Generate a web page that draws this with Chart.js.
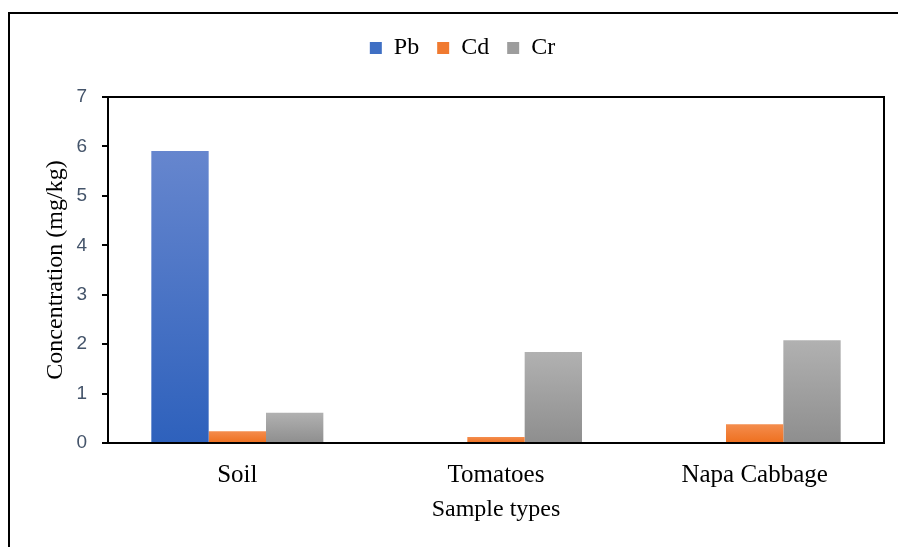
<!DOCTYPE html>
<html>
<head>
<meta charset="utf-8">
<script src="https://cdn.jsdelivr.net/npm/chart.js@4/dist/chart.umd.min.js"></script>
<style>
  html, body { margin: 0; padding: 0; background: #fff; }
  #wrap { width: 898px; height: 547px; position: relative; }
</style>
</head>
<body>
<div id="wrap"><canvas id="chart"></canvas></div>
<script>
const categories = ['Soil', 'Tomatoes', 'Napa Cabbage'];
const pbValues = [5.91, 0, 0];
const cdValues = [0.24, 0.12, 0.38];
const crValues = [0.61, 1.84, 2.08];
const yTicks = [0, 1, 2, 3, 4, 5, 6, 7];

const serif = '"Liberation Serif", "Times New Roman", serif';

// each bar gets its own vertical gradient, top light -> bottom dark
function barGradient(top, bottom) {
  return (ctx) => {
    const chart = ctx.chart;
    const ys = chart.scales.y;
    if (!ys || ctx.raw === undefined) return bottom;
    const y0 = ys.getPixelForValue(ctx.raw);
    const y1 = ys.getPixelForValue(0);
    if (!isFinite(y0) || y0 === y1) return bottom;
    const g = chart.ctx.createLinearGradient(0, y0, 0, y1);
    g.addColorStop(0, top);
    g.addColorStop(1, bottom);
    return g;
  };
}

const frame = {
  id: 'frame',
  beforeLayout(chart) {
    // leave room under the legend, like the original
    const lg = chart.legend;
    if (lg && !lg._padded) {
      const fit = lg.fit.bind(lg);
      lg.fit = () => { fit(); lg.height = 79; };
      lg._padded = true;
    }
  },
  beforeDraw(chart) {
    const c = chart.ctx;
    c.save();
    c.strokeStyle = '#000';
    c.lineWidth = 2;
    c.beginPath();
    c.moveTo(9, 548);
    c.lineTo(9, 13);
    c.lineTo(898, 13);
    c.stroke();
    c.restore();
  },
  afterDatasetsDraw(chart) {
    const { left, top, right, bottom } = chart.chartArea;
    const c = chart.ctx;
    c.save();
    c.strokeStyle = '#000';
    c.lineWidth = 2;
    c.beginPath();
    c.moveTo(left, top);
    c.lineTo(right, top);
    c.lineTo(right, bottom);
    c.stroke();
    c.restore();
  }
};

new Chart(document.getElementById('chart'), {
  type: 'bar',
  data: {
    labels: categories,
    datasets: [
      { label: 'Pb', data: pbValues, backgroundColor: barGradient('#6686ce', '#2e61bc') },
      { label: 'Cd', data: cdValues, backgroundColor: barGradient('#f48d4e', '#ee6f1e') },
      { label: 'Cr', data: crValues, backgroundColor: barGradient('#b1b1b1', '#8e8e8e') }
    ]
  },
  options: {
    responsive: true,
    maintainAspectRatio: false,
    animation: false,
    devicePixelRatio: 1,
    layout: { padding: { top: 18, right: 14, left: 41, bottom: 14 } },
    datasets: { bar: { categoryPercentage: 0.665, barPercentage: 1 } },
    plugins: {
      legend: {
        position: 'top',
        labels: {
          color: '#000',
          font: { family: serif, size: 24 },
          boxWidth: 12,
          boxHeight: 12,
          padding: 18,
          generateLabels(chart) {
            const cols = ['#3f6fc4', '#f07a30', '#9d9d9d'];
            return chart.data.datasets.map((ds, i) => ({
              text: ds.label,
              fillStyle: cols[i],
              strokeStyle: cols[i],
              lineWidth: 0,
              hidden: false,
              datasetIndex: i
            }));
          }
        }
      },
      tooltip: { enabled: false }
    },
    scales: {
      x: {
        grid: { display: false },
        border: { display: true, color: '#000', width: 2 },
        ticks: { color: '#000', font: { family: serif, size: 25 }, padding: 9 },
        title: {
          display: true,
          text: 'Sample types',
          color: '#000',
          font: { family: serif, size: 24 },
          padding: { top: 4, bottom: 9 }
        },
        afterFit(s) { s.height = 90; }
      },
      y: {
        min: 0,
        max: 7,
        afterBuildTicks(s) { s.ticks = yTicks.map((v) => ({ value: v })); },
        grid: { display: true, drawOnChartArea: false, drawTicks: true, tickLength: 6, color: '#000', lineWidth: 2 },
        border: { display: true, color: '#000', width: 2 },
        ticks: { color: '#44546a', font: { family: '"Liberation Sans", Arial, sans-serif', size: 19 }, padding: 15 },
        title: {
          display: true,
          text: 'Concentration (mg/kg)',
          color: '#000',
          font: { family: serif, size: 24 },
          padding: { top: 0, bottom: 0 }
        },
        afterFit(s) { s.width = 67; }
      }
    }
  },
  plugins: [frame]
});
</script>
</body>
</html>
